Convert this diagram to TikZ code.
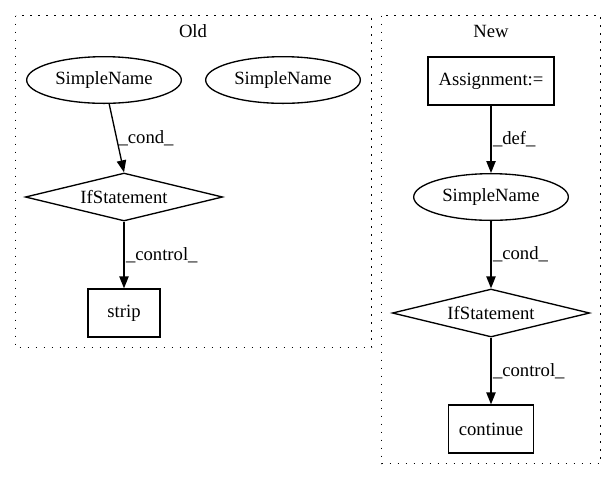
\documentclass[tikz,border=0pt]{standalone}
\usepackage{fontspec}
\setmainfont{Liberation Serif}
\usetikzlibrary{arrows,arrows.meta,positioning,shapes.geometric}

\begin{document}
\begin{tikzpicture}[x=0.75pt,y=-0.75pt,
		font=\fontsize{14pt}{17pt}\selectfont,
		ell/.style={ellipse,draw=black,line width=1pt,inner sep=0pt,minimum width=116pt,minimum height=35pt},
		dia/.style={diamond,draw=black,line width=1pt,inner sep=0pt,aspect=4,minimum width=148pt,minimum height=36pt},
		blk/.style={rectangle,draw=black,line width=1pt,inner xsep=8pt,minimum width=54pt,minimum height=36pt},
		grp/.style={draw=black,line width=1pt,dash pattern=on 1pt off 5pt},
		lbl/.style={right,inner sep=1pt},
		arr/.style={-{Triangle[length=9pt,width=7pt]},line width=1pt}]
		\useasboundingbox (0,0) rectangle (616,480);
		\draw [grp] (15.5,15.5) rectangle (371.5,347.5);
		\draw [grp] (381.5,15.5) rectangle (600.5,463.5);
		\path 	(193,31) 	node 	(old) {Old}
		        (491,31) 	node 	(new) {New};
		% old
		\path 	(104,80) 	node 	(sn1) [ell] {SimpleName}
		        (283,80) 	node 	(sn2) [ell] {SimpleName}
		        (124,197) 	node 	(if1) [dia] {IfStatement}
		        (124,313) 	node 	(strip) [blk] {strip};
		\draw [arr] (sn1) -- node [lbl] {\_cond\_} (if1.north);
		\draw [arr] (if1) -- node [lbl] {\_control\_} (strip);
		% new
		\path 	(491,81) 	node 	(asg) [blk] {Assignment:=}
		        (491,197) 	node 	(sn3) [ell] {SimpleName}
		        (491,313) 	node 	(if2) [dia] {IfStatement}
		        (491,429) 	node 	(cont) [blk] {continue};
		\draw [arr] (asg) -- node [lbl] {\_def\_} (sn3);
		\draw [arr] (sn3) -- node [lbl] {\_cond\_} (if2);
		\draw [arr] (if2) -- node [lbl] {\_control\_} (cont);
	\end{tikzpicture}
\end{document}
